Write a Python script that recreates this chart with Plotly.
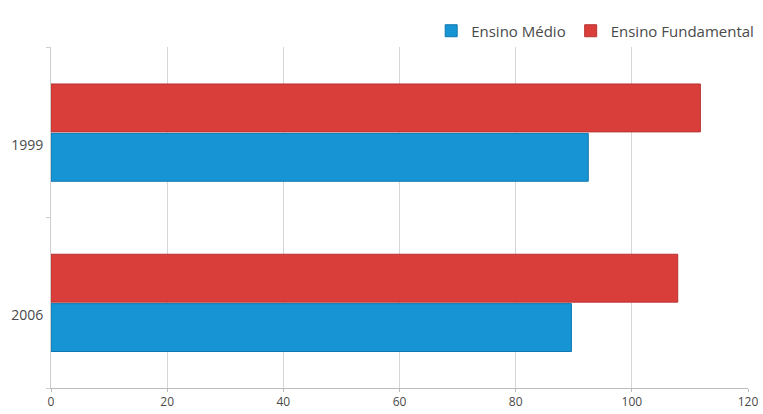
import plotly.graph_objects as go

# Years shown on the category axis (top to bottom)
years = ["1999", "2006"]

# Values per level of education
ensino_medio = [92.5, 89.6]
ensino_fundamental = [111.8, 107.9]

# Axis ticks
x_ticks = [0, 20, 40, 60, 80, 100, 120]

font_family = "Open Sans, Lato, sans-serif"
text_color = "#4a4a4a"

fig = go.Figure()

fig.add_trace(go.Bar(
    name="Ensino Médio",
    y=years,
    x=ensino_medio,
    orientation="h",
    marker=dict(color="#1794d3", line=dict(color="#0f78b0", width=1)),
))
fig.add_trace(go.Bar(
    name="Ensino Fundamental",
    y=years,
    x=ensino_fundamental,
    orientation="h",
    marker=dict(color="#da3e3b", line=dict(color="#b83230", width=1)),
))

fig.update_layout(
    width=763,
    height=414,
    margin=dict(l=51, r=15, t=47, b=26),
    paper_bgcolor="white",
    plot_bgcolor="white",
    barmode="group",
    bargap=0.42,
    bargroupgap=0.03,
    font=dict(family=font_family, size=13, color=text_color),
    showlegend=True,
    legend=dict(
        orientation="h",
        xref="container",
        yref="container",
        x=0.995,
        xanchor="right",
        y=0.965,
        yanchor="top",
        font=dict(size=15, color=text_color),
        traceorder="normal",
        itemwidth=30,
        bgcolor="rgba(0,0,0,0)",
    ),
)

fig.update_xaxes(
    range=[0, 120],
    tickmode="array",
    tickvals=x_ticks,
    ticktext=[str(v) for v in x_ticks],
    showgrid=True,
    gridcolor="#d6d6d6",
    gridwidth=1,
    showline=True,
    linecolor="#bcbcbc",
    linewidth=1,
    ticks="outside",
    ticklen=3,
    tickcolor="#bcbcbc",
    zeroline=False,
    automargin=False,
    tickfont=dict(size=12, color=text_color),
)

fig.update_yaxes(
    type="category",
    categoryorder="array",
    categoryarray=years[::-1],
    showgrid=False,
    showline=True,
    linecolor="#cfcfcf",
    linewidth=1,
    ticks="outside",
    tickson="boundaries",
    ticklen=4,
    tickcolor="#cfcfcf",
    ticklabelshift=12,
    ticklabelstandoff=4,
    automargin=False,
    tickfont=dict(size=14, color=text_color),
)

fig.write_html("out.html")
